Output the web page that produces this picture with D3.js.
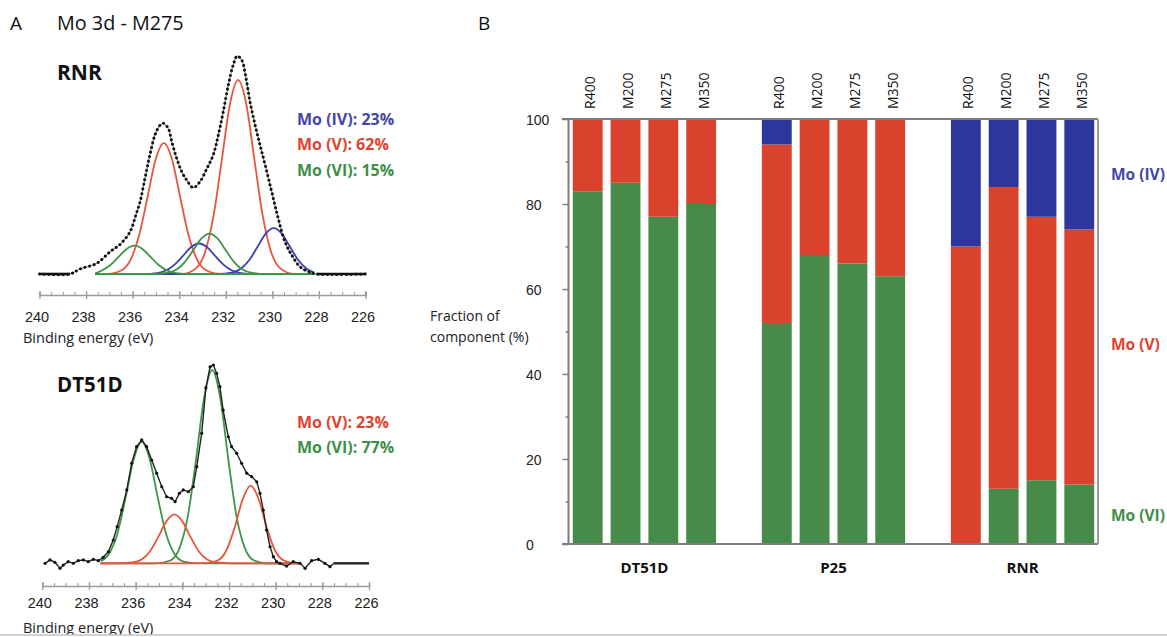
<!DOCTYPE html>
<html><head><meta charset="utf-8">
<script src="https://cdn.jsdelivr.net/npm/d3@7"></script>
<style>
body{margin:0;background:#fff;}
svg{display:block;font-family:"Open Sans",Lato,sans-serif;}
</style></head><body>
<svg id="c" width="1167" height="637"></svg>
<script>
// ---------- Panel B data (fraction of component, %) ----------
const groups = ["DT51D", "P25", "RNR"];
const samples = ["R400", "M200", "M275", "M350"];
const dt51dVI = [83, 85, 77, 80], dt51dV = [17, 15, 23, 20], dt51dIV = [0, 0, 0, 0];
const p25VI = [52, 68, 66, 63], p25V = [42, 32, 34, 37], p25IV = [6, 0, 0, 0];
const rnrVI = [0, 13, 15, 14], rnrV = [70, 71, 62, 60], rnrIV = [30, 16, 23, 26];
const yTicksB = [0, 20, 40, 60, 80, 100];
const sideLabels = ["Mo (IV)", "Mo (V)", "Mo (VI)"];

// ---------- Panel A data (binding energy eV, intensity a.u.) ----------
const energyTicks = [240, 238, 236, 234, 232, 230, 228, 226];
const rnrLegend = ["Mo (IV): 23%", "Mo (V): 62%", "Mo (VI): 15%"];
const dtLegend = ["Mo (V): 23%", "Mo (VI): 77%"];

const rnrEnvelope = [[240,0],[238.69,0],[238.26,2.3],[237.54,4.9],[236.97,10.2],[236.54,13.6],[236.11,19.4],[235.86,27.1],[235.68,33.2],[235.47,43.9],[235.26,54.6],[235.04,63.8],[234.82,68.3],[234.68,69.1],[234.47,66.8],[234.32,60.7],[234.11,53.1],[233.89,46.9],[233.68,43.1],[233.4,39.6],[233.11,42.3],[232.82,48.2],[232.54,54.6],[232.32,63.8],[232.11,74.4],[231.89,86.7],[231.68,95.9],[231.51,100],[231.32,98.2],[231.13,89.8],[230.96,79],[230.74,68.3],[230.53,59.2],[230.31,50],[230.03,37.8],[229.75,25.6],[229.46,14.8],[229.17,8.7],[228.81,3.3],[228.46,1.1],[228.1,0],[226,0]];
const rnrFlatLeft = [[240,0],[238.69,0]];
const rnrFlatRight = [[228.1,0],[226,0]];
const rnrV_a = [[237.6,0],[233.87,0],[233.27,2.7],[232.87,10.7],[232.52,27.1],[232.17,52.4],[231.82,78],[231.47,89],[231.12,78],[230.77,52.4],[230.42,27.1],[230.07,10.7],[229.67,2.7],[229.07,0],[228.2,0]];
const rnrV_b = [[237.6,0],[237.06,0],[236.46,1.8],[236.06,7.2],[235.71,18.2],[235.36,35.3],[235.01,52.6],[234.66,60],[234.31,52.6],[233.96,35.3],[233.61,18.2],[233.26,7.2],[232.86,1.8],[232.26,0],[228.2,0]];
const rnrIV_a = [[237.6,0],[232.34,0],[231.74,0.6],[231.34,2.5],[230.99,6.4],[230.64,12.4],[230.29,18.4],[229.94,21],[229.59,18.4],[229.24,12.4],[228.89,6.4],[228.54,2.5],[228.2,0.6]];
const rnrIV_b = [[237.6,0],[235.55,0],[234.95,0.4],[234.55,1.7],[234.2,4.3],[233.85,8.2],[233.5,12.3],[233.15,14],[232.8,12.3],[232.45,8.2],[232.1,4.3],[231.75,1.7],[231.35,0.4],[230.75,0],[228.2,0]];
const rnrVI_a = [[237.6,0],[235.1,0],[234.5,0.6],[234.1,2.2],[233.75,5.6],[233.4,10.9],[233.05,16.2],[232.7,18.5],[232.35,16.2],[232,10.9],[231.65,5.6],[231.3,2.2],[230.9,0.6],[230.3,0],[228.2,0]];
const rnrVI_b = [[237.6,0.3],[237.32,1.6],[236.97,4],[236.62,7.7],[236.27,11.4],[235.92,13],[235.57,11.4],[235.22,7.7],[234.87,4],[234.52,1.6],[234.12,0.4],[233.52,0],[228.2,0]];

const dtEnvelope = [[239.88,0],[239.67,1.7],[239.46,0.5],[239.24,-2.5],[239.1,-0.9],[238.89,0.8],[238.67,0],[238.46,1.3],[238.24,1.7],[238.03,0.8],[237.81,2],[237.6,1.3],[237.39,3],[237.17,5.8],[236.96,11.7],[236.79,18.4],[236.6,26.7],[236.38,36.8],[236.17,50.2],[235.96,58.5],[235.74,61.9],[235.53,58.5],[235.31,51.8],[235.1,45.2],[234.88,38.4],[234.67,33.4],[234.46,32.6],[234.31,30.9],[234.13,35.1],[233.96,36.8],[233.74,35.9],[233.53,38.4],[233.38,48.5],[233.17,65.2],[232.99,88],[232.81,98.6],[232.67,99.5],[232.53,95.3],[232.39,88.6],[232.25,76.9],[232.03,63.5],[231.89,58.5],[231.67,55.2],[231.46,50.2],[231.24,45.2],[231.03,43.5],[230.81,40.9],[230.67,35.1],[230.53,26.7],[230.39,16.7],[230.24,8.3],[230.1,3.3],[229.96,0.8],[229.82,0],[229.53,-1.4],[229.25,0.8],[228.96,0],[228.74,-2.5],[228.46,1.3],[228.17,2],[227.89,0],[227.67,-1.7],[227.5,0],[226,0]];
const dtVI_a = [[237.5,0],[235.12,0],[234.52,1.4],[234.12,7.6],[233.77,23.2],[233.42,51.3],[233.07,82.7],[232.72,97],[232.37,82.7],[232.02,51.3],[231.67,23.2],[231.32,7.6],[230.92,1.4],[230.32,0],[229,0]];
const dtVI_b = [[237.5,1],[237.14,4.8],[236.79,14.6],[236.44,32.3],[236.09,52],[235.74,61],[235.39,52],[235.04,32.3],[234.69,14.6],[234.34,4.8],[233.94,0.9],[233.34,0],[229,0]];
const dtV_b = [[237.5,0],[236.74,0],[236.14,0.4],[235.74,1.9],[235.39,5.9],[235.04,13],[234.69,20.9],[234.34,24.5],[233.99,20.9],[233.64,13],[233.29,5.9],[232.94,1.9],[232.54,0.4],[231.94,0],[229,0]];
const dtV_a = [[237.5,0],[233.47,0],[232.87,0.2],[232.47,1.5],[232.12,6.3],[231.77,17.4],[231.42,31.9],[231.07,39],[230.72,31.9],[230.37,17.4],[230.02,6.3],[229.67,1.5],[229.27,0.2],[229,0]];

// ---------- styling ----------
const barColor = {VI: "#478b4b", V: "#d9432d", IV: "#2c369c"};
const lineColor = {VI: "#3f9446", V: "#e5563f", IV: "#3b3fae"};
const textColor = {IV: "#4447a8", V: "#e0432f", VI: "#3e8f46"};

const svg = d3.select("#c");

// ================= Panel B =================
const rowsData = [[dt51dVI, dt51dV, dt51dIV], [p25VI, p25V, p25IV], [rnrVI, rnrV, rnrIV]];
const rows = [];
groups.forEach((g, gi) => samples.forEach((s, si) => rows.push({
  key: g + "|" + s, group: g, sample: s,
  VI: rowsData[gi][0][si], V: rowsData[gi][1][si], IV: rowsData[gi][2][si]
})));
const slotDomain = [];
groups.forEach((g, gi) => { if (gi > 0) slotDomain.push("gap" + gi); samples.forEach(s => slotDomain.push(g + "|" + s)); });

const xB = d3.scaleBand().domain(slotDomain).range([569, 1098]).paddingInner(0.21).paddingOuter(0.1);
const yB = d3.scaleLinear().domain([0, 100]).range([544, 119]);
const series = d3.stack().keys(["VI", "V", "IV"])(rows);

const gB = svg.append("g");
series.forEach(s => {
  gB.selectAll(null).data(s.filter(d => d[1] - d[0] > 0)).join("rect")
    .attr("x", d => xB(d.data.key))
    .attr("y", d => yB(d[1]))
    .attr("width", xB.bandwidth())
    .attr("height", d => yB(d[0]) - yB(d[1]))
    .attr("fill", barColor[s.key]);
});

// frame
const frameColor = "#7d7d7d";
gB.append("line").attr("x1", 562).attr("x2", 1098).attr("y1", yB(100)).attr("y2", yB(100)).attr("stroke", frameColor).attr("stroke-width", 2);
gB.append("line").attr("x1", 562).attr("x2", 1098).attr("y1", yB(0)).attr("y2", yB(0)).attr("stroke", frameColor).attr("stroke-width", 2);
gB.append("line").attr("x1", 1098).attr("x2", 1098).attr("y1", yB(100)).attr("y2", yB(0)).attr("stroke", "#9a9a9a").attr("stroke-width", 2);
gB.append("line").attr("x1", 568.5).attr("x2", 568.5).attr("y1", yB(100)).attr("y2", yB(0)).attr("stroke", frameColor).attr("stroke-width", 2);

// y axis
const axB = gB.append("g").attr("transform", "translate(568.5,0)")
  .call(d3.axisLeft(yB).tickValues(yTicksB).tickSize(6).tickFormat(d3.format("d")));
axB.select(".domain").remove();
axB.selectAll(".tick line").attr("stroke", frameColor).attr("stroke-width", 1.5);
axB.selectAll(".tick text").attr("x", -42.5).attr("text-anchor", "start").attr("dy", "0.36em")
  .attr("fill", "#222").style("font-size", "14px");
const axBm = gB.append("g").attr("transform", "translate(568.5,0)")
  .call(d3.axisLeft(yB).tickValues(yB.ticks(10).filter(v => v % 20 !== 0)).tickSize(3).tickFormat(""));
axBm.select(".domain").remove();
axBm.selectAll(".tick line").attr("stroke", frameColor).attr("stroke-width", 1.5);

// sample labels (rotated)
gB.selectAll(null).data(rows).join("text")
  .attr("transform", d => `translate(${xB(d.key) + xB.bandwidth() / 2 + 7.5},109) rotate(-90)`)
  .attr("text-anchor", "start").attr("fill", "#111").style("font-size", "14px")
  .text(d => d.sample);

// group labels
gB.selectAll(null).data(groups).join("text")
  .attr("x", g => (xB(g + "|" + samples[0]) + xB(g + "|" + samples[samples.length - 1]) + xB.bandwidth()) / 2)
  .attr("y", 573).attr("text-anchor", "middle").attr("fill", "#111")
  .style("font-size", "15px").style("font-weight", 700).text(g => g);

// y title
gB.append("text").attr("x", 430).attr("y", 321).attr("fill", "#222").style("font-size", "14px").text("Fraction of");
gB.append("text").attr("x", 430).attr("y", 342).attr("fill", "#222").style("font-size", "14px").text("component (%)");

// side legend
const sideY = [180, 350, 521];
const sideKeys = ["IV", "V", "VI"];
gB.selectAll(null).data(sideLabels).join("text")
  .attr("x", 1111).attr("y", (d, i) => sideY[i]).attr("fill", (d, i) => textColor[sideKeys[i]])
  .style("font-size", "15.5px").style("font-weight", 700).text(d => d);

// panel letters / title
svg.append("text").attr("x", 10).attr("y", 30).style("font-size", "19px").attr("fill", "#111").text("A");
svg.append("text").attr("x", 57).attr("y", 30).style("font-size", "19.8px").attr("fill", "#111").text("Mo 3d - M275");
svg.append("text").attr("x", 478).attr("y", 30).style("font-size", "19px").attr("fill", "#111").text("B");

// ================= Panel A =================
function spectrum(cfg) {
  const g = svg.append("g");
  const x = d3.scaleLinear().domain([240, 226]).range(cfg.xr);
  const y = d3.scaleLinear().domain([0, 100]).range(cfg.yr);
  const line = d3.line().x(d => x(d[0])).y(d => y(d[1])).curve(d3.curveMonotoneX);

  // axis
  const minor = g.append("g").attr("transform", `translate(0,${cfg.axisY})`)
    .call(d3.axisBottom(x).tickValues(d3.range(226, 240.01, 0.5)).tickSize(-3).tickFormat(""));
  minor.select(".domain").attr("stroke", "#9a9a9a").attr("stroke-width", 1.5);
  minor.selectAll(".tick line").attr("stroke", "#9a9a9a");
  const major = g.append("g").attr("transform", `translate(0,${cfg.axisY})`)
    .call(d3.axisBottom(x).tickValues(energyTicks).tickSize(4).tickFormat(d3.format("d")));
  major.select(".domain").remove();
  major.selectAll(".tick line").attr("y1", -4).attr("y2", 4).attr("stroke", "#9a9a9a").attr("stroke-width", 1.3);
  major.selectAll(".tick text").attr("y", cfg.labelDy).attr("dy", 0).attr("dx", -3)
    .attr("fill", "#222").style("font-size", "14.5px");
  g.append("text").attr("x", 23).attr("y", cfg.titleY).attr("fill", "#222").style("font-size", "14.5px").text("Binding energy (eV)");

  // components
  cfg.comps.forEach(c => {
    g.append("path").datum(c.data).attr("d", line).attr("fill", "none")
      .attr("stroke", lineColor[c.k]).attr("stroke-width", 1.8);
  });
  cfg.drawEnvelope(g, x, y);

  // sample name
  g.append("text").attr("x", 57).attr("y", cfg.nameY).attr("fill", "#111")
    .style("font-size", cfg.nameSize).style("font-weight", 700).text(cfg.name);
  // legend
  g.selectAll(null).data(cfg.legend).join("text")
    .attr("x", 297).attr("y", (d, i) => cfg.legendY + i * 25.3)
    .attr("fill", (d, i) => textColor[cfg.legendKeys[i]])
    .style("font-size", "16px").style("font-weight", 700).text(d => d);
}

spectrum({
  xr: [39.5, 365.5], yr: [274, 56], axisY: 295, labelDy: 27, titleY: 343,
  name: "RNR", nameY: 80, nameSize: "21px", legend: rnrLegend, legendKeys: ["IV", "V", "VI"], legendY: 125,
  comps: [{k: "V", data: rnrV_a}, {k: "V", data: rnrV_b}, {k: "IV", data: rnrIV_a}, {k: "IV", data: rnrIV_b},
          {k: "VI", data: rnrVI_a}, {k: "VI", data: rnrVI_b}],
  drawEnvelope: (g, x, y) => {
    const l = d3.line().x(d => x(d[0])).y(d => y(d[1])).curve(d3.curveCatmullRom);
    g.append("path").datum(rnrEnvelope).attr("d", l).attr("fill", "none").attr("stroke", "#555").attr("stroke-width", 0.8);
    g.append("path").datum(rnrEnvelope).attr("d", l).attr("fill", "none").attr("stroke", "#111")
      .attr("stroke-width", 3).attr("stroke-linecap", "round").attr("stroke-dasharray", "0.1 4.6");
    const ll = d3.line().x(d => x(d[0])).y(d => y(d[1]));
    [rnrFlatLeft, rnrFlatRight].forEach(f => g.append("path").datum(f).attr("d", ll)
      .attr("stroke", "#111").attr("stroke-width", 2.6).attr("fill", "none"));
  }
});

spectrum({
  xr: [42.3, 369], yr: [563.3, 364], axisY: 586, labelDy: 22, titleY: 633,
  name: "DT51D", nameY: 392, nameSize: "20.5px", legend: dtLegend, legendKeys: ["V", "VI"], legendY: 428,
  comps: [{k: "VI", data: dtVI_a}, {k: "VI", data: dtVI_b}, {k: "V", data: dtV_a}, {k: "V", data: dtV_b}],
  drawEnvelope: (g, x, y) => {
    const l = d3.line().x(d => x(d[0])).y(d => y(d[1]));
    g.append("path").datum(dtEnvelope).attr("d", l).attr("fill", "none").attr("stroke", "#222").attr("stroke-width", 1.4);
    g.append("path").datum(dtEnvelope.slice(-2)).attr("d", l).attr("fill", "none").attr("stroke", "#222").attr("stroke-width", 2.2);
    g.selectAll(null).data(dtEnvelope.slice(0, -2)).join("circle")
      .attr("cx", d => x(d[0])).attr("cy", d => y(d[1])).attr("r", 1.6).attr("fill", "#111");
  }
});

// bottom page border
svg.append("rect").attr("x", 0).attr("y", 635).attr("width", 1167).attr("height", 2).attr("fill", "#fff");
svg.append("line").attr("x1", 0).attr("x2", 1167).attr("y1", 635).attr("y2", 635).attr("stroke", "#c4c4c4").attr("stroke-width", 1.5);
</script>
</body></html>
